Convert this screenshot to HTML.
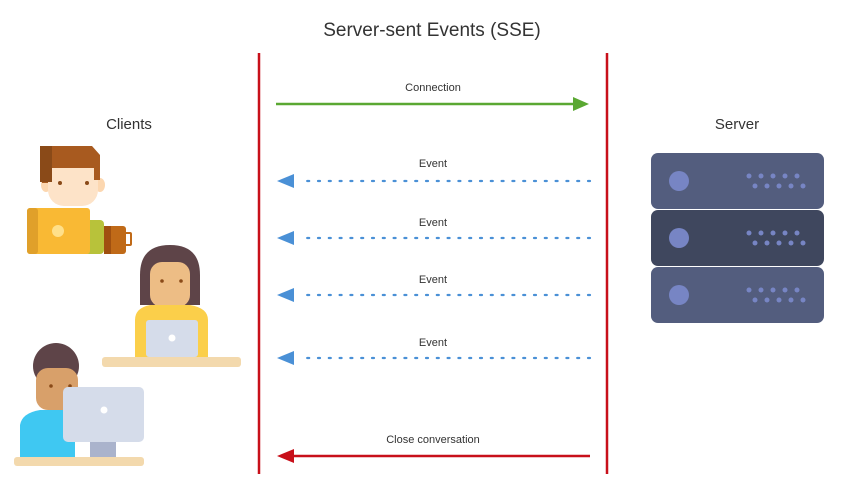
<!DOCTYPE html>
<html><head><meta charset="utf-8"><style>
html,body{margin:0;padding:0;background:#fff;}
svg{display:block;font-family:"Liberation Sans",sans-serif;}
</style></head><body>
<svg width="849" height="490" viewBox="0 0 849 490" xmlns="http://www.w3.org/2000/svg">
<rect width="849" height="490" fill="#fff"/>
<text x="432" y="36" text-anchor="middle" font-size="19" fill="#333">Server-sent Events (SSE)</text>
<text x="129" y="129" text-anchor="middle" font-size="15" fill="#333">Clients</text>
<text x="737" y="129" text-anchor="middle" font-size="15" fill="#333">Server</text>
<line x1="259" y1="53" x2="259" y2="474" stroke="#c8101a" stroke-width="2.5"/>
<line x1="607" y1="53" x2="607" y2="474" stroke="#c8101a" stroke-width="2.5"/>
<!-- connection -->
<text x="433" y="91" text-anchor="middle" font-size="11" fill="#333">Connection</text>
<line x1="276" y1="104" x2="576" y2="104" stroke="#5aa832" stroke-width="2.5"/>
<polygon points="573,97 589,104 573,111" fill="#5aa832"/>
<!-- events -->
<g fill="#333" font-size="11" text-anchor="middle">
<text x="433" y="167">Event</text>
<text x="433" y="226">Event</text>
<text x="433" y="283">Event</text>
<text x="433" y="346">Event</text>
<text x="433" y="443">Close conversation</text>
</g>
<g stroke="#4a90d6" stroke-width="2.2" stroke-dasharray="2 8.8" stroke-linecap="round">
<line x1="590" y1="181" x2="300" y2="181"/>
<line x1="590" y1="238" x2="300" y2="238"/>
<line x1="590" y1="295" x2="300" y2="295"/>
<line x1="590" y1="358" x2="300" y2="358"/>
</g>
<g fill="#4a90d6">
<polygon points="277,181 294,174 294,188"/>
<polygon points="277,238 294,231 294,245"/>
<polygon points="277,295 294,288 294,302"/>
<polygon points="277,358 294,351 294,365"/>
</g>
<line x1="590" y1="456" x2="290" y2="456" stroke="#c8101a" stroke-width="2.5"/>
<polygon points="277,456 294,449 294,463" fill="#c8101a"/>
<!-- server -->
<rect x="651" y="153" width="173" height="56" rx="7" fill="#535d7e"/>
<rect x="651" y="210" width="173" height="56" rx="7" fill="#3f475e"/>
<rect x="651" y="267" width="173" height="56" rx="7" fill="#535d7e"/>
<g fill="#7785c4">
<circle cx="679" cy="181" r="10"/><circle cx="679" cy="238" r="10"/><circle cx="679" cy="295" r="10"/>
</g>
<g fill="#7785c4" id="d">
<circle cx="749" cy="176" r="2.5"/><circle cx="761" cy="176" r="2.5"/><circle cx="773" cy="176" r="2.5"/><circle cx="785" cy="176" r="2.5"/><circle cx="797" cy="176" r="2.5"/>
<circle cx="755" cy="186" r="2.5"/><circle cx="767" cy="186" r="2.5"/><circle cx="779" cy="186" r="2.5"/><circle cx="791" cy="186" r="2.5"/><circle cx="803" cy="186" r="2.5"/>
</g>
<use href="#d" y="57"/><use href="#d" y="114"/>
<!-- man 1 -->
<ellipse cx="46" cy="185" rx="5" ry="7" fill="#fcd7b0"/>
<ellipse cx="100" cy="185" rx="5" ry="7" fill="#fcd7b0"/>
<rect x="48" y="160" width="50" height="46" rx="16" fill="#fde3c8"/>
<path d="M40 146 H92 L100 155 V180 H94 V168 H48 V183 H42 Z" fill="#a85a1f"/>
<rect x="40" y="146" width="12" height="36" fill="#8a4a18"/>
<circle cx="60" cy="183" r="2" fill="#8a4a18"/><circle cx="87" cy="183" r="2" fill="#8a4a18"/>
<rect x="84" y="220" width="20" height="34" rx="4" fill="#b8c23a"/>
<rect x="27" y="208" width="63" height="46" rx="3" fill="#f9b934"/>
<rect x="27" y="208" width="11" height="46" rx="3" fill="#e0a02a"/>
<circle cx="58" cy="231" r="6" fill="#ffe08a"/>
<rect x="104" y="226" width="22" height="28" rx="3" fill="#c06a18"/>
<rect x="104" y="226" width="7" height="28" fill="#a05010"/>
<rect x="125" y="233" width="6" height="12" rx="1" fill="none" stroke="#c06a18" stroke-width="2"/>
<!-- woman -->
<path d="M140 275 Q140 245 170 245 Q200 245 200 275 V305 H140 Z" fill="#5e4448"/>
<rect x="150" y="262" width="40" height="45" rx="12" fill="#edbd85"/>
<circle cx="162" cy="281" r="1.8" fill="#8a4a18"/><circle cx="181" cy="281" r="1.8" fill="#8a4a18"/>
<path d="M135 357 V320 Q135 308 150 305 H190 Q208 308 208 320 V357 Z" fill="#fbcf4a"/>
<rect x="146" y="320" width="52" height="37" rx="3" fill="#d5dcea"/>
<circle cx="172" cy="338" r="3.5" fill="#fff"/>
<rect x="102" y="357" width="139" height="10" rx="3" fill="#f3d9ad"/>
<!-- boy -->
<path d="M20 458 V425 Q22 413 40 410 H75 V458 Z" fill="#3fc8f2"/>
<circle cx="56" cy="366" r="23" fill="#5e4448"/>
<rect x="36" y="368" width="42" height="42" rx="12" fill="#d8a06a"/>
<circle cx="51" cy="386" r="1.8" fill="#8a4a18"/><circle cx="70" cy="386" r="1.8" fill="#8a4a18"/>
<rect x="90" y="420" width="26" height="38" fill="#aab3cc"/>
<rect x="63" y="387" width="81" height="55" rx="5" fill="#d5dcea"/>
<circle cx="104" cy="410" r="3.5" fill="#fff"/>
<rect x="14" y="457" width="130" height="9" rx="3" fill="#f3d9ad"/>
</svg>
</body></html>
